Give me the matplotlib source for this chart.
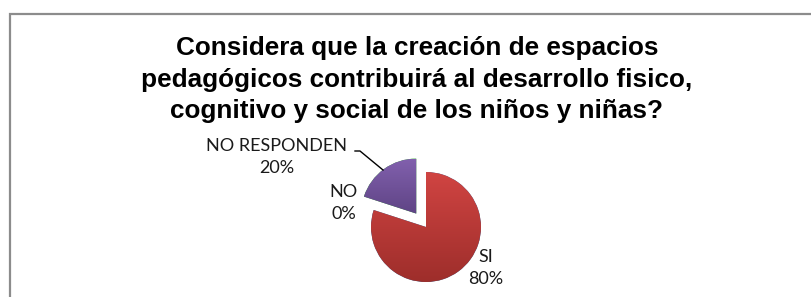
import numpy as np
import matplotlib.pyplot as plt
from matplotlib.colors import LinearSegmentedColormap
from matplotlib.patches import Rectangle

title = ("Considera que la creación de espacios\n"
         "pedagógicos contribuirá al desarrollo fisico,\n"
         "cognitivo y social de los niños y niñas?")
labels = ["SI", "NO", "NO RESPONDEN"]
values = [80, 0, 20]
pcts = ["80%", "0%", "20%"]
top_colors = ["#d04442", "#8a8a8a", "#8160ad"]
bot_colors = ["#9e2e2b", "#8a8a8a", "#5f4485"]

W, H = 812, 297
fig = plt.figure(figsize=(W / 100, H / 100), dpi=100)
ax = fig.add_axes([0, 0, 1, 1])

# chart frame
ax.add_patch(Rectangle((10, -20), 830, H - 14 + 20, fill=False,
                       edgecolor="#8c8c8c", linewidth=1.6))

cx, cy, r = 426, 70, 55
# explode is applied in data units here (px), not as a radius fraction
wedges, _ = ax.pie(values, startangle=90, counterclock=False,
                   explode=[0, 0, 16.6], radius=r, center=(cx, cy),
                   wedgeprops=dict(linewidth=0), frame=True)

# soft vertical gradient on each slice
for w, c1, c2, v in zip(wedges, top_colors, bot_colors, values):
    if v == 0:
        continue
    cmap = LinearSegmentedColormap.from_list("g", [c2, c1])
    bb = w.get_path().get_extents()
    grad = np.linspace(0, 1, 100).reshape(-1, 1)
    im = ax.imshow(grad, cmap=cmap, origin="lower", aspect="auto",
                   extent=[bb.x0, bb.x1, bb.y0, bb.y1], zorder=w.get_zorder() + 0.1)
    im.set_clip_path(w)
ax.set_xlim(0, W)
ax.set_ylim(0, H)
ax.set_aspect("equal")
ax.axis("off")

lab_font = dict(family=["Lato", "DejaVu Sans"], fontsize=13, color="#1a1a1a",
                ha="center", va="center", linespacing=1.45)
ax.text(486, H - 268, f"{labels[0]}\n{pcts[0]}", **lab_font)
ax.text(344, H - 203, f"{labels[1]}\n{pcts[1]}", **lab_font)
ax.text(277, H - 157, f"{labels[2]}\n{pcts[2]}", **lab_font)
ax.plot([355, 360, 383], [H - 151, H - 151, H - 170], color="black", lw=1)

fig.text(417 / W, 1 - 79.5 / H, title, ha="center", va="center",
         family=["Liberation Sans", "DejaVu Sans"], fontweight="bold",
         fontsize=18.8, linespacing=1.42)

fig.savefig("out.png", dpi=100)
